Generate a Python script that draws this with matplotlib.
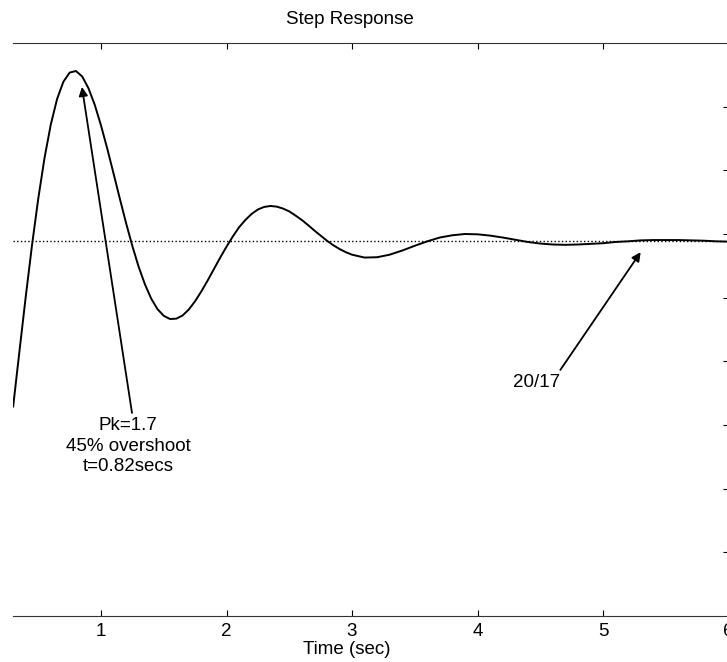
import numpy as np
import matplotlib
matplotlib.use("Agg")
import matplotlib.pyplot as plt

plt.rcParams['font.family'] = ['Liberation Sans', 'DejaVu Sans']

# step response
t_vals = list(np.round(np.arange(0.30, 3.001, 0.05), 2)) + list(np.round(np.arange(3.1, 6.001, 0.1), 1))
y_vals = [0.658, 0.831, 1.002, 1.164, 1.311, 1.439, 1.544, 1.624, 1.678, 1.707,
          1.712, 1.695, 1.658, 1.606, 1.541, 1.468, 1.390, 1.311, 1.234, 1.162,
          1.097, 1.042, 0.997, 0.964, 0.943, 0.933, 0.934, 0.944, 0.963, 0.989,
          1.020, 1.054, 1.090, 1.126, 1.160, 1.192, 1.221, 1.244, 1.263, 1.277,
          1.285, 1.288, 1.286, 1.280, 1.271, 1.258, 1.244, 1.228, 1.211, 1.195,
          1.179, 1.165, 1.153, 1.143, 1.135,
          1.126, 1.127, 1.135, 1.148, 1.163, 1.177, 1.189, 1.196, 1.200, 1.199,
          1.195, 1.189, 1.182, 1.175, 1.170, 1.167, 1.166, 1.167, 1.169, 1.171,
          1.175, 1.177, 1.180, 1.181, 1.181, 1.181, 1.180, 1.179, 1.177, 1.176]
final_value = 20 / 17

x_ticks = [1, 2, 3, 4, 5, 6]
y_ticks = [0.2, 0.4, 0.6, 0.8, 1.0, 1.2, 1.4, 1.6]

peak_text = 'Pk=1.7\n45% overshoot\nt=0.82secs'
peak_tip, peak_tail, peak_label = (0.848, 1.662), (1.247, 0.638), (1.215, 0.534)
ss_text = '20/17'
ss_tip, ss_tail, ss_label = (5.30, 1.143), (4.66, 0.773), (4.47, 0.732)

fig = plt.figure(figsize=(7.27, 6.62), dpi=100)
ax = fig.add_axes([13.15 / 727, 46 / 662, 715.35 / 727, 573 / 662])

ax.plot(t_vals, y_vals, color='black', lw=1.4)
ax.axhline(final_value, color='black', ls=':', lw=1.0)

ax.set_xlim(0.30, 6.0)
ax.set_ylim(0, 1.8)
ax.set_xticks(x_ticks)
ax.set_yticks(y_ticks)
ax.tick_params(axis='x', direction='in', top=True, bottom=True, length=4,
               width=0.8, labelsize=13.5, pad=5)
ax.tick_params(axis='y', direction='in', left=False, right=True, length=4,
               width=0.8, labelleft=False, labelright=False)
for side in ['left', 'right']:
    ax.spines[side].set_visible(False)
for side in ['top', 'bottom']:
    ax.spines[side].set_linewidth(0.8)
    ax.spines[side].set_color('#333333')

ax.set_xlabel('Time (sec)', fontsize=13.5)
ax.xaxis.set_label_coords((347 - 13.15) / 715.35, -0.044)
fig.text(350 / 727, 1 - 20 / 662, 'Step Response', ha='center', va='center', fontsize=13.5)

arrow = dict(arrowstyle='-|>', color='black', lw=1.3, mutation_scale=13, shrinkA=0, shrinkB=0)
ax.annotate('', xy=peak_tip, xytext=peak_tail, arrowprops=arrow)
ax.text(*peak_label, peak_text, ha='center', va='center', fontsize=13.5, linespacing=1.3)
ax.annotate('', xy=ss_tip, xytext=ss_tail, arrowprops=arrow)
ax.text(*ss_label, ss_text, ha='center', va='center', fontsize=13.5)

fig.savefig('out.png', dpi=100)
